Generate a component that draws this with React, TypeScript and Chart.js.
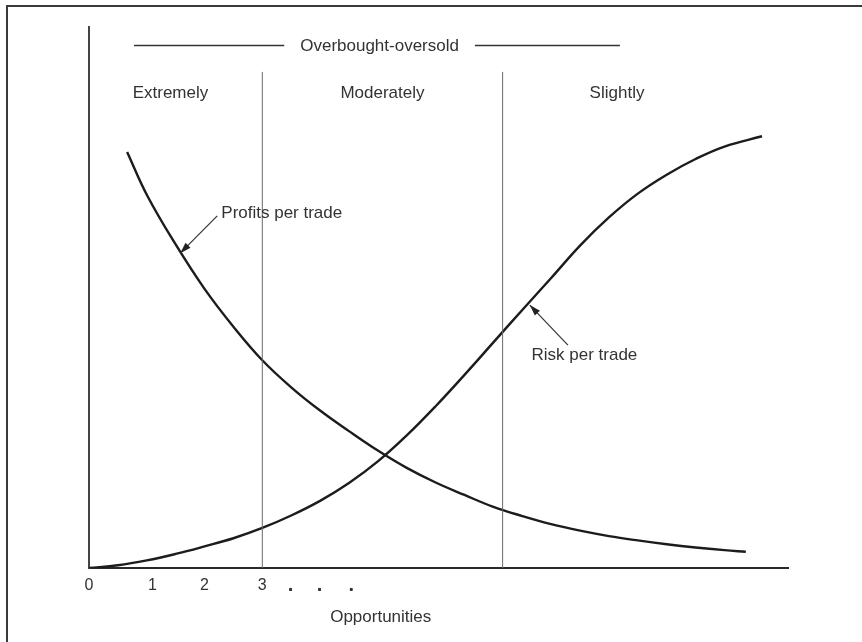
import { useEffect, useRef } from "react";
import { Chart, registerables } from "chart.js";

Chart.register(...registerables);

// Curves (x: opportunities scale, y: relative level 0-100)
const riskX = [0, 0.5, 1.0, 1.5, 2.0, 2.5, 3.0, 3.5, 4.0, 4.5, 5.0, 5.5, 6.0, 6.5, 7.0, 7.5, 8.0, 8.5, 9.0, 9.5, 10.0, 10.5, 11.0, 11.65];
const riskY = [0, 0.5, 1.4, 2.6, 4.0, 5.5, 7.4, 9.7, 12.4, 15.7, 19.7, 24.5, 29.9, 35.7, 41.7, 47.7, 53.6, 59.6, 64.8, 69.2, 72.7, 75.6, 77.9, 79.8];
const profitX = [0.66, 1.0, 1.5, 2.0, 2.5, 3.0, 3.5, 4.0, 4.5, 5.0, 5.5, 6.0, 6.5, 7.0, 7.5, 8.0, 8.5, 9.0, 9.5, 10.0, 10.5, 11.0, 11.37];
const profitY = [76.9, 69.0, 59.8, 51.6, 44.6, 38.4, 33.4, 29.1, 25.3, 21.7, 18.5, 15.8, 13.5, 11.3, 9.6, 8.1, 6.9, 5.9, 5.1, 4.4, 3.8, 3.3, 3.0];

// Zone dividers and labels
const zoneBounds = [3.0, 7.16];
const zoneTop = 91.7;
const zoneLabels = ["Extremely", "Moderately", "Slightly"];
const zoneLabelX = [1.41, 5.08, 9.14];
const zoneLabelY = 87.8;

// Header
const headerText = "Overbought-oversold";
const headerX = 5.03;
const headerY = 96.4;
const headerRuleLeft = [0.78, 3.38];
const headerRuleRight = [6.68, 9.19];

// X tick labels
const tickLabels = ["0", "1", "2", "3", "·", "·", "·"];
const tickValues = [0, 1.1, 2.0, 3.0, 3.5, 4.0, 4.55];
const xTitle = "Opportunities";
const xTitleValue = 5.05;

// Annotations
const profitLabel = "Profits per trade";
const profitLabelAt = [2.29, 65.6];
const profitArrowFrom = [2.22, 65.1];
const profitArrowTo = [1.58, 58.2];
const riskLabel = "Risk per trade";
const riskLabelAt = [7.66, 39.4];
const riskArrowFrom = [8.29, 41.2];
const riskArrowTo = [7.63, 48.6];

const X_MAX = 12.1;
const Y_MAX = 100;

const FONT = '17px "Liberation Sans", Arial, sans-serif';
const TEXT = "#333";
const INK = "#1c1c1c";

function drawArrow(ctx: CanvasRenderingContext2D, x1: number, y1: number, x2: number, y2: number) {
  ctx.save();
  ctx.strokeStyle = "#333";
  ctx.fillStyle = "#222";
  ctx.lineWidth = 1.2;
  ctx.beginPath();
  ctx.moveTo(x1, y1);
  ctx.lineTo(x2, y2);
  ctx.stroke();
  const ang = Math.atan2(y2 - y1, x2 - x1);
  const len = 11;
  const half = 3.5;
  const bx = x2 - len * Math.cos(ang);
  const by = y2 - len * Math.sin(ang);
  ctx.beginPath();
  ctx.moveTo(x2, y2);
  ctx.lineTo(bx + half * Math.sin(ang), by - half * Math.cos(ang));
  ctx.lineTo(bx - half * Math.sin(ang), by + half * Math.cos(ang));
  ctx.closePath();
  ctx.fill();
  ctx.restore();
}

const decorPlugin = {
  id: "decor",
  beforeDraw(chart: any) {
    const { ctx, width, height } = chart;
    ctx.save();
    ctx.fillStyle = "#fff";
    ctx.fillRect(0, 0, width, height);
    // frame (top and left)
    ctx.strokeStyle = "#3a3a3a";
    ctx.lineWidth = 2;
    ctx.beginPath();
    ctx.moveTo(width, 6);
    ctx.lineTo(7, 6);
    ctx.lineTo(7, height);
    ctx.stroke();
    ctx.restore();
  },
  afterDatasetsDraw(chart: any) {
    const { ctx } = chart;
    const xs = chart.scales.x;
    const ys = chart.scales.y;
    const px = (v: number) => xs.getPixelForValue(v);
    const py = (v: number) => ys.getPixelForValue(v);
    ctx.save();
    ctx.font = FONT;
    ctx.fillStyle = TEXT;
    ctx.textBaseline = "middle";

    // header
    ctx.textAlign = "center";
    ctx.fillText(headerText, px(headerX), py(headerY));
    ctx.strokeStyle = "#333";
    ctx.lineWidth = 1.5;
    ctx.beginPath();
    ctx.moveTo(px(headerRuleLeft[0]), py(headerY) - 1);
    ctx.lineTo(px(headerRuleLeft[1]), py(headerY) - 1);
    ctx.moveTo(px(headerRuleRight[0]), py(headerY) - 1);
    ctx.lineTo(px(headerRuleRight[1]), py(headerY) - 1);
    ctx.stroke();

    // zone labels
    zoneLabels.forEach((t, i) => {
      ctx.fillText(t, px(zoneLabelX[i]), py(zoneLabelY));
    });

    // tick labels
    tickLabels.forEach((t, i) => {
      const isDot = t === "·";
      ctx.font = isDot ? 'bold 20px "Liberation Sans", Arial, sans-serif' : '16px "Liberation Sans", Arial, sans-serif';
      ctx.fillText(t, px(tickValues[i]), ys.bottom + (isDot ? 22 : 18));
    });
    ctx.font = FONT;
    ctx.fillText(xTitle, px(xTitleValue), ys.bottom + 49);

    // annotations
    ctx.textAlign = "left";
    ctx.fillText(profitLabel, px(profitLabelAt[0]), py(profitLabelAt[1]));
    ctx.fillText(riskLabel, px(riskLabelAt[0]), py(riskLabelAt[1]));
    drawArrow(ctx, px(profitArrowFrom[0]), py(profitArrowFrom[1]), px(profitArrowTo[0]), py(profitArrowTo[1]));
    drawArrow(ctx, px(riskArrowFrom[0]), py(riskArrowFrom[1]), px(riskArrowTo[0]), py(riskArrowTo[1]));
    ctx.restore();
  },
};

export default function App() {
  const ref = useRef<HTMLCanvasElement | null>(null);
  useEffect(() => {
    if (!ref.current) return;
    const zoneDatasets = zoneBounds.map((b) => ({
      label: "zone",
      data: [
        { x: b, y: 0 },
        { x: b, y: zoneTop },
      ],
      borderColor: "#6a6a6a",
      borderWidth: 1,
      pointRadius: 0,
      tension: 0,
    }));
    const chart = new Chart(ref.current, {
      type: "line",
      data: {
        datasets: [
          ...zoneDatasets,
          {
            label: "Profits per trade",
            data: profitX.map((x, i) => ({ x, y: profitY[i] })),
            borderColor: INK,
            borderWidth: 2.4,
            pointRadius: 0,
            tension: 0.4,
          },
          {
            label: "Risk per trade",
            data: riskX.map((x, i) => ({ x, y: riskY[i] })),
            borderColor: INK,
            borderWidth: 2.4,
            pointRadius: 0,
            tension: 0.4,
          },
        ] as any,
      },
      options: {
        animation: false,
        responsive: true,
        maintainAspectRatio: false,
        layout: { padding: { left: 89, right: 74, top: 27, bottom: 74 } },
        plugins: { legend: { display: false }, tooltip: { enabled: false } },
        events: [],
        scales: {
          x: {
            type: "linear",
            min: 0,
            max: X_MAX,
            ticks: { display: false },
            grid: { display: false, drawTicks: false },
            border: { display: true, color: "#2a2a2a", width: 2 },
          },
          y: {
            type: "linear",
            min: 0,
            max: Y_MAX,
            ticks: { display: false },
            grid: { display: false, drawTicks: false },
            border: { display: true, color: "#444", width: 2 },
          },
        },
      },
      plugins: [decorPlugin],
    });
    return () => chart.destroy();
  }, []);
  return (
    <div style={{ position: "absolute", left: 0, top: 0, width: 862, height: 642, background: "#fff" }}>
      <canvas ref={ref} />
    </div>
  );
}
